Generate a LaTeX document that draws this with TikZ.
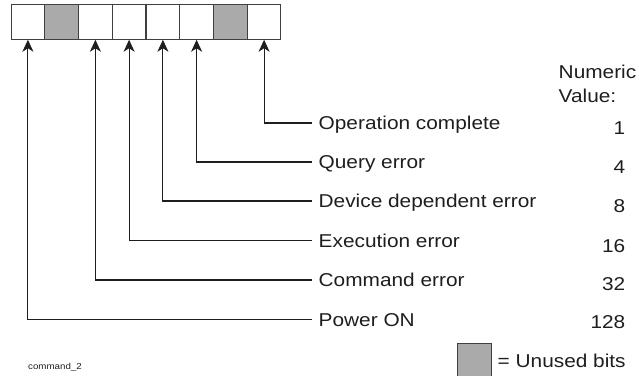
\documentclass[tikz,border=0pt]{standalone}
\usepackage{fontspec}
\setmainfont{Liberation Sans}[FakeStretch=1.12]
\usetikzlibrary{arrows.meta}
\definecolor{ink}{HTML}{1E1E1E}
\definecolor{unused}{HTML}{AAAAAA}
\begin{document}
\begin{tikzpicture}[x=1pt,y=-1pt,
  bitbox/.style={draw=ink!85,line width=1pt,minimum width=33.75pt,minimum height=34.3pt,inner sep=0pt,fill=white},
  unusedbox/.style={bitbox,fill=unused},
  lbl/.style={anchor=base west,inner sep=0pt,text=ink,font=\fontsize{18.6}{22}\selectfont},
  num/.style={anchor=base east,inner sep=0pt,text=ink,font=\fontsize{18.6}{22}\selectfont},
  wire/.style={draw=ink,line width=1.05pt},
  arr/.style={wire,-{Stealth[length=12pt,width=11pt,inset=3.5pt]}}]
\useasboundingbox (0,0) rectangle (639,375);
% bit register
\node[bitbox]    (b0) at (27.9,22.1) {};
\node[unusedbox] (b1) at (61.6,22.1) {};
\node[bitbox]    (b2) at (95.4,22.1) {};
\node[bitbox]    (b3) at (129.1,22.1) {};
\node[bitbox]    (b4) at (162.9,22.1) {};
\node[bitbox]    (b5) at (196.6,22.1) {};
\node[unusedbox] (b6) at (230.4,22.1) {};
\node[bitbox]    (b7) at (264.1,22.1) {};
% line ends
\coordinate (e1) at (312,123);
\coordinate (e2) at (312,162);
\coordinate (e3) at (312,201);
\coordinate (e4) at (312,240.5);
\coordinate (e5) at (312,280);
\coordinate (e6) at (312,319.5);
% labels
\node[lbl] (l1) at (318.5,129.5) {Operation complete};
\node[lbl] (l2) at (318.5,168.5) {Query error};
\node[lbl] (l3) at (318.5,207.5) {Device dependent error};
\node[lbl] (l4) at (318.5,247) {Execution error};
\node[lbl] (l5) at (318.5,286.5) {Command error};
\node[lbl] (l6) at (318.5,326) {Power ON};
% numeric values
\node[lbl] (nh1) at (558.5,78) {Numeric};
\node[lbl] (nh2) at (558.5,102) {Value:};
\node[num] (n1) at (625.5,134) {1};
\node[num] (n2) at (625.5,173) {4};
\node[num] (n3) at (625.5,212.5) {8};
\node[num] (n4) at (625.5,252) {16};
\node[num] (n5) at (625.5,290) {32};
\node[num] (n6) at (625.5,328) {128};
% connectors
\draw[arr] (e1) -| (b7.south);
\draw[arr] (e2) -| (b5.south);
\draw[arr] (e3) -| (b4.south);
\draw[arr] (e4) -| (b3.south);
\draw[arr] (e5) -| (b2.south);
\draw[arr] (e6) -| (b0.south);
% legend
\node[draw=ink!85,line width=1pt,fill=unused,minimum width=34pt,minimum height=33pt,inner sep=0pt] (leg) at (474.5,359.5) {};
\node[lbl] (legt) at (497.5,367) {= Unused bits};
\node[anchor=base west,inner sep=0pt,text=ink,font=\fontsize{8.7}{10}\selectfont] (cap) at (28,369.5) {command\_2};
\end{tikzpicture}
\end{document}
